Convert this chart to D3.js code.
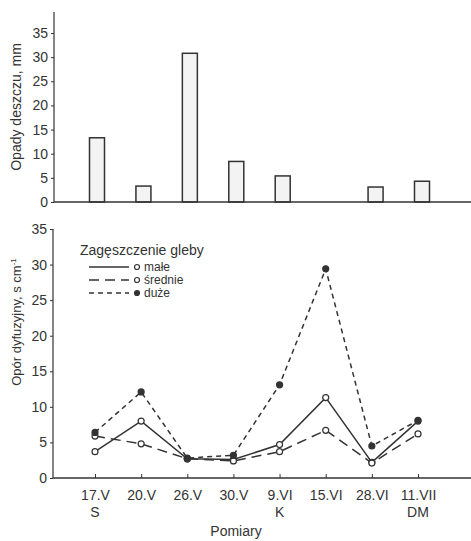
<!DOCTYPE html>
<html>
<head>
<meta charset="utf-8">
<script src="https://cdn.jsdelivr.net/npm/d3@7"></script>
<style>
  body { margin: 0; background: #fff; }
  svg { font-family: "Liberation Sans", Arial, sans-serif; }
  .axis text { font-size: 14px; fill: #333; }
  .axis path, .axis line { stroke: #333; }
</style>
</head>
<body>
<svg width="471" height="541"></svg>
<script>
// measurement dates and the soil-lab labels under some of them
const dates = ["17.V", "20.V", "26.V", "30.V", "9.VI", "15.VI", "28.VI", "11.VII"];
const subLabels = ["S", "", "", "", "K", "", "", "DM"];
// rainfall, mm
const rain = [13.3, 3.3, 30.8, 8.4, 5.4, 0, 3.1, 4.3];
// diffusive resistance, s cm-1, per soil compaction
const male = [3.7, 8.0, 2.7, 2.6, 4.7, 11.3, 2.2, 8.0];
const srednie = [5.9, 4.8, 2.7, 2.4, 3.7, 6.7, 2.1, 6.2];
const duze = [6.4, 12.1, 2.8, 3.2, 13.1, 29.4, 4.5, 8.1];
const yTicks = [0, 5, 10, 15, 20, 25, 30, 35];

const svg = d3.select("svg");
const ink = "#333";

// ---------- top panel: rainfall bars ----------
const xTop = d3.scalePoint().domain(dates).range([97, 422]);
const yTop = d3.scaleLinear().domain([0, 35]).range([202, 33]);

const topPanel = svg.append("g");
topPanel.append("g")
  .attr("class", "axis")
  .attr("transform", "translate(54,0)")
  .call(d3.axisLeft(yTop).tickValues(yTicks).tickSize(3).tickPadding(3))
  .call((g) => g.select(".domain").remove());
topPanel.append("line")
  .attr("x1", 54).attr("x2", 54)
  .attr("y1", 12).attr("y2", yTop(0))
  .attr("stroke", ink).attr("stroke-width", 1.2);

topPanel.selectAll(".bar")
  .data(rain.map((v, i) => ({ d: dates[i], v: v })).filter((d) => d.v > 0))
  .enter()
  .append("rect")
  .attr("class", "bar")
  .attr("x", (d) => xTop(d.d) - 7.5)
  .attr("width", 15)
  .attr("y", (d) => yTop(d.v))
  .attr("height", (d) => yTop(0) - yTop(d.v))
  .attr("fill", "#f3f3f3")
  .attr("stroke", ink)
  .attr("stroke-width", 1.5);

topPanel.append("line")
  .attr("x1", 54).attr("x2", 471)
  .attr("y1", yTop(0)).attr("y2", yTop(0))
  .attr("stroke", ink).attr("stroke-width", 1.5);

topPanel.append("text")
  .attr("transform", "translate(21,107) rotate(-90)")
  .attr("text-anchor", "middle")
  .attr("font-size", 14)
  .attr("fill", ink)
  .text("Opady deszczu, mm");

// ---------- bottom panel: diffusive resistance ----------
const x = d3.scalePoint().domain(dates).range([95, 418]);
const y = d3.scaleLinear().domain([0, 35]).range([478, 229]);

const bot = svg.append("g");
bot.append("g")
  .attr("class", "axis")
  .attr("transform", "translate(53,0)")
  .call(d3.axisLeft(y).tickValues(yTicks).tickSize(3).tickPadding(3))
  .call((g) => g.select(".domain").remove());
bot.append("line")
  .attr("x1", 53).attr("x2", 53)
  .attr("y1", y(35)).attr("y2", y(0))
  .attr("stroke", ink).attr("stroke-width", 1.2);

// x axis: ticks pointing up
const xAxis = bot.append("g")
  .attr("class", "axis")
  .attr("transform", "translate(0," + y(0) + ")")
  .call(d3.axisBottom(x).tickSize(-4).tickPadding(12))
  .call((g) => g.select(".domain").remove());
xAxis.selectAll("text").attr("font-size", 14);
bot.append("line")
  .attr("x1", 53).attr("x2", 471)
  .attr("y1", y(0)).attr("y2", y(0))
  .attr("stroke", ink).attr("stroke-width", 1.5);

bot.selectAll(".sub")
  .data(subLabels)
  .enter()
  .append("text")
  .attr("class", "sub")
  .attr("x", (d, i) => x(dates[i]))
  .attr("y", 517)
  .attr("text-anchor", "middle")
  .attr("font-size", 14)
  .attr("fill", ink)
  .text((d) => d);

bot.append("text")
  .attr("x", 236).attr("y", 536)
  .attr("text-anchor", "middle")
  .attr("font-size", 14)
  .attr("fill", ink)
  .text("Pomiary");

const yl = bot.append("text")
  .attr("transform", "translate(21,322) rotate(-90)")
  .attr("text-anchor", "middle")
  .attr("font-size", 13)
  .attr("fill", ink);
yl.append("tspan").text("Opór dyfuzyjny, s cm");
yl.append("tspan").attr("dy", -5).attr("font-size", 8).text("-1");

const series = [
  { name: "małe", values: male, dash: null, filled: false },
  { name: "średnie", values: srednie, dash: "10,6", filled: false },
  { name: "duże", values: duze, dash: "5,4", filled: true }
];

const line = d3.line()
  .x((d, i) => x(dates[i]))
  .y((d) => y(d));

series.forEach((s) => {
  bot.append("path")
    .datum(s.values)
    .attr("d", line)
    .attr("fill", "none")
    .attr("stroke", ink)
    .attr("stroke-width", 1.5)
    .attr("stroke-dasharray", s.dash);
});
series.forEach((s) => {
  bot.selectAll(null)
    .data(s.values)
    .enter()
    .append("circle")
    .attr("cx", (d, i) => x(dates[i]))
    .attr("cy", (d) => y(d))
    .attr("r", 3)
    .attr("fill", s.filled ? ink : "#fff")
    .attr("stroke", ink)
    .attr("stroke-width", 1.2);
});

// legend
const legend = bot.append("g");
legend.append("text")
  .attr("x", 80).attr("y", 255)
  .attr("font-size", 14)
  .attr("fill", ink)
  .text("Zagęszczenie gleby");
const item = legend.selectAll(".item")
  .data(series)
  .enter()
  .append("g")
  .attr("class", "item")
  .attr("transform", (d, i) => "translate(0," + (267 + i * 13) + ")");
item.append("line")
  .attr("x1", 89).attr("x2", 129)
  .attr("stroke", ink).attr("stroke-width", 1.5)
  .attr("stroke-dasharray", (d) => d.dash);
item.append("circle")
  .attr("cx", 137).attr("r", 2.5)
  .attr("fill", (d) => (d.filled ? ink : "#fff"))
  .attr("stroke", ink).attr("stroke-width", 1.2);
item.append("text")
  .attr("x", 144).attr("y", 4)
  .attr("font-size", 12)
  .attr("fill", ink)
  .text((d) => d.name);
</script>
</body>
</html>
